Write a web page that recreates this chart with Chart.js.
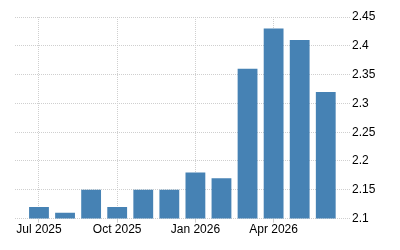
<!DOCTYPE html>
<html>
<head>
<meta charset="utf-8">
<script src="https://cdn.jsdelivr.net/npm/chart.js@4"></script>
<style>
  html, body { margin: 0; padding: 0; background: #fff; }
  #wrap { width: 400px; height: 250px; position: relative; }
</style>
</head>
<body>
<div id="wrap"><canvas id="c"></canvas></div>
<script>
// monthly values, Jul 2025 .. Jun 2026
const months = ['Jul 2025','Aug 2025','Sep 2025','Oct 2025','Nov 2025','Dec 2025',
                'Jan 2026','Feb 2026','Mar 2026','Apr 2026','May 2026','Jun 2026'];
const values = [2.12, 2.11, 2.15, 2.12, 2.15, 2.15, 2.18, 2.17, 2.36, 2.43, 2.41, 2.32];
const labelIdx = [0, 3, 6, 9];   // months that get a tick label
const yTicks = [2.1, 2.15, 2.2, 2.25, 2.3, 2.35, 2.4, 2.45];

const gridColor = '#cfcfcf';

new Chart(document.getElementById('c'), {
  type: 'bar',
  data: {
    datasets: [{
      data: values.map((v, i) => ({ x: i, y: v })),
      backgroundColor: '#4682b4',
      borderWidth: 0,
      barPercentage: 0.76,
      categoryPercentage: 1
    }]
  },
  options: {
    responsive: true,
    maintainAspectRatio: false,
    animation: false,
    layout: { padding: { left: 15, top: 17, right: 0, bottom: 13 } },
    plugins: { legend: { display: false }, tooltip: { enabled: false } },
    scales: {
      x: {
        type: 'linear',
        offset: false,
        min: -0.92,
        max: 11.93,
        afterBuildTicks: (axis) => { axis.ticks = labelIdx.map(v => ({ value: v })); },
        ticks: {
          callback: (v) => months[v],
          color: '#000',
          font: { family: 'Liberation Sans, Arial, sans-serif', size: 12 },
          maxRotation: 0,
          autoSkip: false,
          padding: 0
        },
        grid: { offset: false, color: gridColor, tickLength: 4 },
        border: { display: false, dash: [1, 1] }
      },
      y: {
        position: 'right',
        min: 2.1,
        max: 2.45,
        afterBuildTicks: (axis) => { axis.ticks = yTicks.map(v => ({ value: v })); },
        afterFit: (axis) => { axis.width = 50; },
        ticks: {
          callback: (v) => String(+v.toFixed(2)),
          color: '#000',
          font: { family: 'Liberation Sans, Arial, sans-serif', size: 12 },
          padding: 2
        },
        grid: { color: gridColor, tickLength: 0 },
        border: { display: false, dash: [1, 1] }
      }
    }
  }
});
</script>
</body>
</html>
